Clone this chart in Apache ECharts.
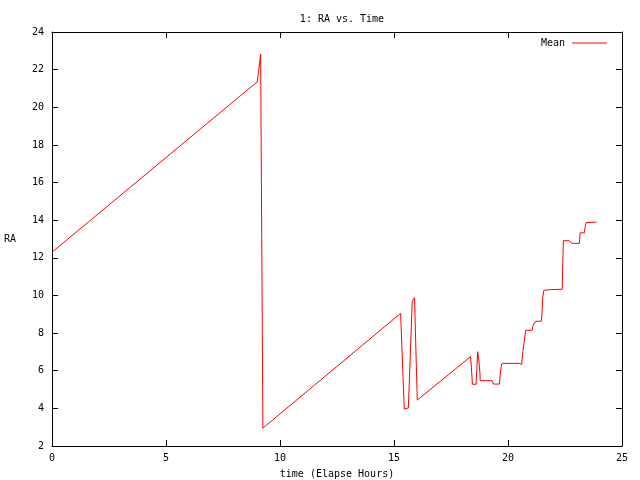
<!DOCTYPE html>
<html><head><meta charset="utf-8">
<script src="https://cdn.jsdelivr.net/npm/echarts@6/dist/echarts.min.js"></script>
<style>html,body{margin:0;padding:0;background:#fff}#c{width:640px;height:480px}</style>
</head><body><div id="c"></div>
<script>
const titleText = '1: RA vs. Time';
const seriesName = 'Mean';
const hours = [0, 9.0, 9.05, 9.12, 9.15, 9.25, 15.29, 15.45, 15.63, 15.8, 15.9, 16.02, 18.36, 18.42, 18.44, 18.6, 18.67, 18.72, 18.77, 18.78, 19.3, 19.36, 19.62, 19.68, 19.72, 19.82, 20.48, 20.6, 20.65, 20.7, 20.75, 20.78, 21.06, 21.1, 21.21, 21.46, 21.49, 21.52, 21.57, 21.87, 22.38, 22.4, 22.43, 22.68, 22.79, 23.13, 23.16, 23.35, 23.39, 23.43, 23.88];
const ra = [12.3, 21.35, 21.8, 22.5, 22.83, 2.95, 9.05, 3.95, 4.03, 9.7, 9.88, 4.44, 6.75, 5.68, 5.28, 5.28, 7.01, 6.57, 5.86, 5.47, 5.47, 5.29, 5.29, 6.04, 6.36, 6.39, 6.39, 6.34, 7.01, 7.46, 7.9, 8.15, 8.15, 8.42, 8.63, 8.63, 9.01, 9.86, 10.27, 10.31, 10.33, 11.62, 12.91, 12.91, 12.77, 12.77, 13.33, 13.33, 13.69, 13.87, 13.9];

const font = 'DejaVu Sans Mono';
const data = hours.map((h, i) => [h, ra[i]]);
const chart = echarts.init(document.getElementById('c'), null, {renderer: 'canvas'});
const axisLine = {show: true, onZero: false, lineStyle: {color: '#000', width: 1}};
const tick = {show: true, inside: true, length: 6, lineStyle: {color: '#000'}};
chart.setOption({
  animation: false,
  backgroundColor: '#fff',
  title: {text: titleText, left: 337, textAlign: 'center', top: 9,
    textStyle: {fontFamily: font, fontSize: 10, fontWeight: 'normal', color: '#000'}},
  legend: {data: [{name: seriesName, icon: 'rect'}], right: 28, top: 33, align: 'right',
    itemWidth: 35, itemHeight: 1, itemGap: 0,
    textStyle: {fontFamily: font, fontSize: 10, color: '#000', padding: [0, 2, 0, 0]}},
  grid: {left: 52, right: 18, top: 32, bottom: 34, containLabel: false, outerBoundsMode: 'none'},
  xAxis: [{type: 'value', min: 0, max: 25, interval: 5, position: 'bottom',
    name: 'time (Elapse Hours)', nameLocation: 'middle', nameGap: 23,
    nameTextStyle: {fontFamily: font, fontSize: 10, color: '#000'},
    axisLine: axisLine, axisTick: tick, splitLine: {show: false},
    axisLabel: {fontFamily: font, fontSize: 10, color: '#000', margin: 7}},
    {type: 'value', min: 0, max: 25, interval: 5, position: 'top',
    axisLine: axisLine, axisTick: tick, splitLine: {show: false}, axisLabel: {show: false}}],
  yAxis: [{type: 'value', min: 2, max: 24, interval: 2, position: 'left',
    name: 'RA', nameLocation: 'middle', nameGap: 36, nameRotate: 0,
    nameTextStyle: {fontFamily: font, fontSize: 10, color: '#000'},
    axisLine: axisLine, axisTick: tick, splitLine: {show: false},
    axisLabel: {fontFamily: font, fontSize: 10, color: '#000', margin: 8}},
    {type: 'value', min: 2, max: 24, interval: 2, position: 'right',
    axisLine: axisLine, axisTick: tick, splitLine: {show: false}, axisLabel: {show: false}}],
  series: [{name: seriesName, type: 'line', data: data, xAxisIndex: 0, yAxisIndex: 0,
    showSymbol: false, symbol: 'none', color: '#ff0000',
    lineStyle: {color: '#ff0000', width: 1}}]
});
</script></body></html>
